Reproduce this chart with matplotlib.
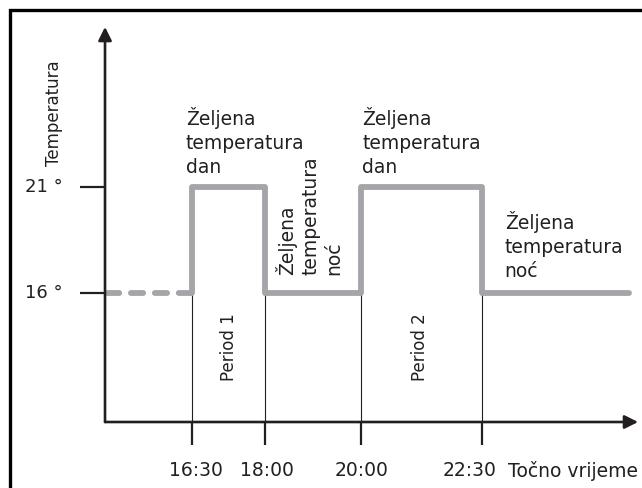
import matplotlib.pyplot as plt
from matplotlib.patches import Rectangle

# podaci
switch_times = [16.5, 18.0, 20.0, 22.5]
switch_labels = ["16:30", "18:00", "20:00", "22:30"]
label_shift = [0.08, 0.06, 0.0, -0.25]   # mali pomak natpisa vremena
temp_levels = [16, 21]
temp_labels = ["16 °", "21 °"]
set_temps = [21, 16, 21, 16]   # temperatura nakon svakog prebacivanja
end_time = 25.55
night_temp = 16

# raspored (vrijeme / temperatura)
x_lo, x_hi = 12.527, 25.811
y_lo, y_hi = 6.802, 29.821
x0, y0 = 14.70, 9.915
x_tip, y_tip = 25.73, 28.55

ink = "#231f20"
grey = "#a4a5a8"
fs = 13.5

fig = plt.figure(figsize=(6.42, 4.88), dpi=100)
ax = fig.add_axes([0, 0, 1, 1])
ax.set_xlim(x_lo, x_hi)
ax.set_ylim(y_lo, y_hi)
ax.axis("off")

# okvir
fig.patches.append(Rectangle((10 / 642, -0.2), 2, 1.2 - 10 / 488, transform=fig.transFigure,
                             fill=False, lw=2.4, edgecolor="black"))

# osi sa strelicama
arrow = dict(arrowstyle="-|>", lw=1.9, color=ink, mutation_scale=20, shrinkA=0, shrinkB=0)
ax.annotate("", xy=(x0, y_tip), xytext=(x0, y0), arrowprops=arrow)
ax.annotate("", xy=(x_tip, y0), xytext=(x0, y0), arrowprops=arrow)

# oznake temperature
for t, lab in zip(temp_levels, temp_labels):
    ax.plot([x0 - 0.52, x0], [t, t], color=ink, lw=1.6, solid_capstyle="butt")
    ax.text(x0 - 0.88, t, lab, ha="right", va="center", fontsize=fs - 0.5, color=ink)

# oznake vremena i vertikalne linije
for t, lab, dx in zip(switch_times, switch_labels, label_shift):
    ax.plot([t, t], [night_temp, y0], color=ink, lw=0.8)
    ax.plot([t, t], [y0, y0 - 1.1], color=ink, lw=1.6, solid_capstyle="butt")
    ax.text(t + dx, y0 - 2.3, lab, ha="center", va="center", fontsize=fs, color=ink)
ax.text(23.04, y0 - 2.3, "Točno vrijeme", ha="left", va="center", fontsize=fs, color=ink)

# profil temperature
xs, ys = [switch_times[0]], [night_temp]
for t, temp in zip(switch_times, set_temps):
    xs += [t, t]
    ys += [ys[-1], temp]
xs.append(end_time)
ys.append(ys[-1])
ax.plot(xs, ys, color=grey, lw=4.2, solid_joinstyle="round", solid_capstyle="round")
ax.plot([x0 + 0.05, switch_times[0]], [night_temp, night_temp], color=grey, lw=4.2,
        linestyle=(0, (2.1, 2.0)), dash_capstyle="round")

# tekstovi
ax.text(x0 - 1.06, 24.5, "Temperatura", rotation=90, ha="center", va="center",
        fontsize=fs - 1.5, color=ink)
ax.text(16.37, 24.76, "Željena\ntemperatura\ndan", ha="left", va="top",
        fontsize=fs, color=ink, linespacing=1.34)
ax.text(20.02, 24.76, "Željena\ntemperatura\ndan", ha="left", va="top",
        fontsize=fs, color=ink, linespacing=1.34)
ax.text(22.97, 19.87, "Željena\ntemperatura\nnoć", ha="left", va="top",
        fontsize=fs, color=ink, linespacing=1.34)
ax.text(18.21, 16.87, "Željena\ntemperatura\nnoć", rotation=90, ha="left", va="bottom",
        multialignment="left", fontsize=fs, color=ink, linespacing=1.3)
ax.text(17.27, 13.46, "Period 1", rotation=90, ha="center", va="center", fontsize=fs - 1.5, color=ink)
ax.text(21.22, 13.46, "Period 2", rotation=90, ha="center", va="center", fontsize=fs - 1.5, color=ink)

fig.savefig("out.png", dpi=100)
